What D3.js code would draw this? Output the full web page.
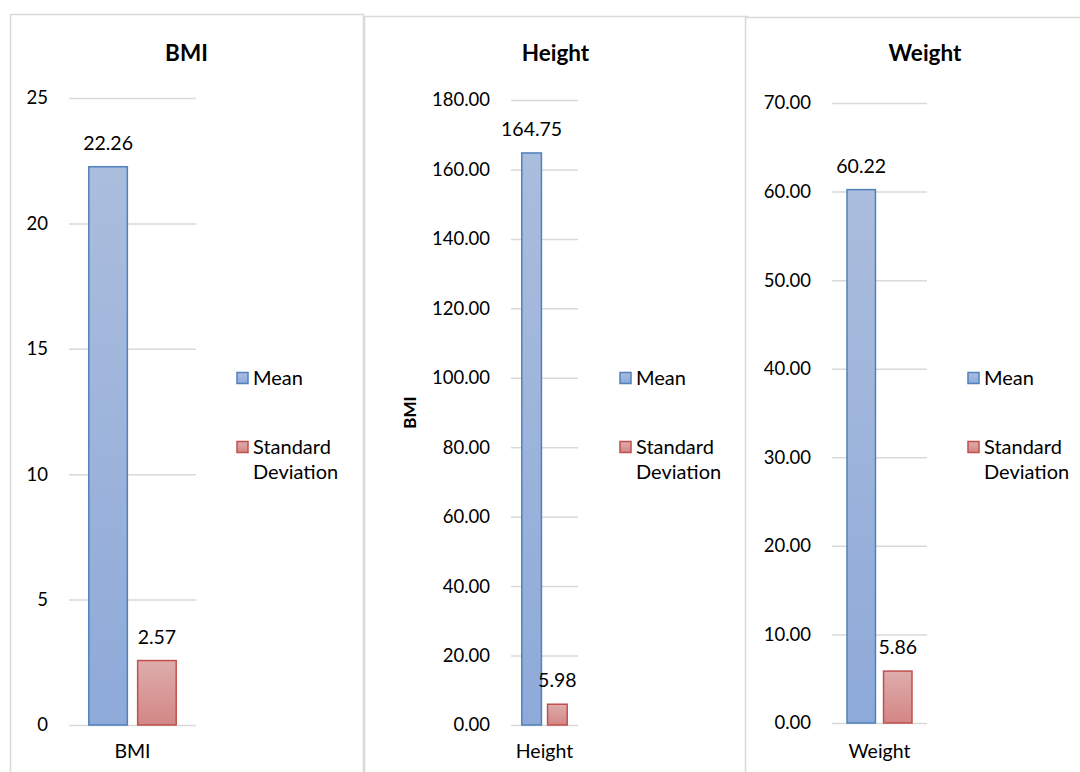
<!DOCTYPE html>
<html>
<head>
<meta charset="utf-8">
<script src="https://cdn.jsdelivr.net/npm/d3@7"></script>
<style>
  body { margin: 0; background: #fff; }
  svg { display: block; font-family: Lato, "Open Sans", sans-serif; }
</style>
</head>
<body>
<svg id="chart" width="1080" height="772"></svg>
<script>
// data
const categories = ["BMI", "Height", "Weight"];
const series = ["Mean", "Standard Deviation"];
const meanValues = [22.26, 164.75, 60.22];
const sdValues = [2.57, 5.98, 5.86];
const yMax = [25, 180, 70];
const yStep = [5, 20, 10];
const tickDecimals = [0, 2, 2];
const yTitles = [null, "BMI", null];

// layout of the three panels
const panels = [
  { box: [10, 14, 353], plotX: [69, 196], plotY: [98, 725], legendX: 237 },
  { box: [364, 16, 383], plotX: [511, 578], plotY: [100, 725], legendX: 620 },
  { box: [745, 17, 360], plotX: [832, 927], plotY: [103, 723], legendX: 968 }
];

const svg = d3.select("#chart");
const defs = svg.append("defs");

function grad(id, top, bottom) {
  const g = defs.append("linearGradient").attr("id", id).attr("x1", 0).attr("y1", 0).attr("x2", 0).attr("y2", 1);
  g.append("stop").attr("offset", "0%").attr("stop-color", top);
  g.append("stop").attr("offset", "100%").attr("stop-color", bottom);
}
grad("gMean", "#abbddd", "#8eaad9");
grad("gSd", "#ddadac", "#d38685");

const fills = { "Mean": "url(#gMean)", "Standard Deviation": "url(#gSd)" };
const strokes = { "Mean": "#4f81bd", "Standard Deviation": "#c0504d" };

panels.forEach((p, i) => {
  const g = svg.append("g");
  const [bx, by, bw] = p.box;

  g.append("rect").attr("x", bx + 0.5).attr("y", by + 0.5).attr("width", bw).attr("height", 800)
    .attr("fill", "#fff").attr("stroke", "#d9d9d9").attr("stroke-width", 1.5);

  g.append("text").attr("x", bx + bw / 2).attr("y", 61).attr("text-anchor", "middle")
    .style("font-size", "22.5px").style("font-weight", "bold").text(categories[i]);

  const y = d3.scaleLinear().domain([0, yMax[i]]).range([p.plotY[1], p.plotY[0]]);
  const x = d3.scaleBand().domain(series).range(p.plotX).paddingInner(0.18).paddingOuter(0.39);
  const ticks = d3.range(0, yMax[i] + yStep[i] / 2, yStep[i]);

  const yAxis = d3.axisLeft(y).tickValues(ticks).tickFormat(d3.format("." + tickDecimals[i] + "f"))
    .tickSize(-(p.plotX[1] - p.plotX[0])).tickPadding(21);
  const ag = g.append("g").attr("transform", `translate(${p.plotX[0]},0)`).call(yAxis);
  ag.select(".domain").remove();
  ag.selectAll(".tick line").attr("stroke", "#d9d9d9").attr("stroke-width", 1.5);
  ag.selectAll(".tick text").style("font-size", "18.5px").style("font-family", "Lato").attr("fill", "#000");

  const vals = [meanValues[i], sdValues[i]];
  g.append("g").selectAll("rect").data(series).join("rect")
    .attr("x", d => x(d) + 0.75)
    .attr("y", (d, j) => y(vals[j]))
    .attr("width", x.bandwidth() - 1.5)
    .attr("height", (d, j) => y(0) - y(vals[j]))
    .attr("fill", d => fills[d]).attr("stroke", d => strokes[d]).attr("stroke-width", 1.5);

  g.append("g").selectAll("text").data(series).join("text")
    .attr("x", d => x(d) + x.bandwidth() / 2)
    .attr("y", (d, j) => y(vals[j]) - 17)
    .attr("text-anchor", "middle").style("font-size", "19.5px")
    .text((d, j) => vals[j].toFixed(2));

  g.append("text").attr("x", (p.plotX[0] + p.plotX[1]) / 2).attr("y", 758)
    .attr("text-anchor", "middle").style("font-size", "19.5px").text(categories[i]);

  if (yTitles[i]) {
    g.append("text").attr("transform", `translate(${p.plotX[0] - 95},${(p.plotY[0] + p.plotY[1]) / 2}) rotate(-90)`)
      .attr("text-anchor", "middle").style("font-size", "17px").style("font-weight", "bold").text(yTitles[i]);
  }

  // legend
  const lg = g.append("g");
  const rows = [{ s: "Mean", y: 378, lines: ["Mean"] }, { s: "Standard Deviation", y: 447, lines: ["Standard", "Deviation"] }];
  rows.forEach(r => {
    lg.append("rect").attr("x", p.legendX).attr("y", r.y - 5.5).attr("width", 11).attr("height", 11)
      .attr("fill", fills[r.s]).attr("stroke", strokes[r.s]).attr("stroke-width", 1.5);
    r.lines.forEach((t, k) => {
      lg.append("text").attr("x", p.legendX + 16).attr("y", r.y + 7 + k * 25)
        .style("font-size", "20px").text(t);
    });
  });
});
</script>
</body>
</html>
